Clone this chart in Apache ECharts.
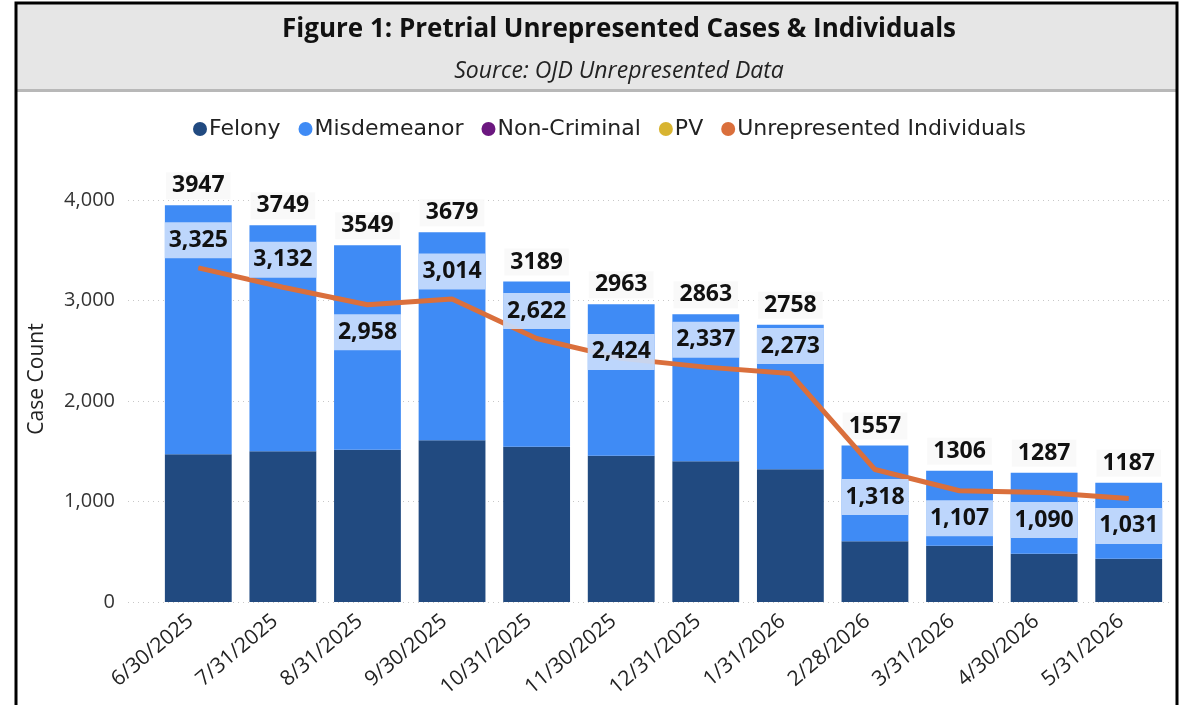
<!DOCTYPE html>
<html>
<head>
<meta charset="utf-8">
<script src="https://cdn.jsdelivr.net/npm/echarts@6/dist/echarts.min.js"></script>
<style>
  html, body { margin: 0; padding: 0; background: #fff; }
  #chart { width: 1183px; height: 705px; }
</style>
</head>
<body>
<div id="chart"></div>
<script>
// month-end dates
const months = ['6/30/2025', '7/31/2025', '8/31/2025', '9/30/2025', '10/31/2025', '11/30/2025',
  '12/31/2025', '1/31/2026', '2/28/2026', '3/31/2026', '4/30/2026', '5/31/2026'];

const felony = [1470, 1500, 1515, 1610, 1545, 1455, 1400, 1320, 605, 560, 480, 430];
const misdemeanor = [2477, 2249, 2034, 2069, 1644, 1508, 1463, 1438, 952, 746, 807, 757];
const nonCriminal = [0, 0, 0, 0, 0, 0, 0, 0, 0, 0, 0, 0];
const pv = [0, 0, 0, 0, 0, 0, 0, 0, 0, 0, 0, 0];
const totals = [3947, 3749, 3549, 3679, 3189, 2963, 2863, 2758, 1557, 1306, 1287, 1187];
const individuals = [3325, 3132, 2958, 3014, 2622, 2424, 2337, 2273, 1318, 1107, 1090, 1031];
// where Power BI put each individuals label: above or below the line
const labelSide = ['top', 'top', 'bottom', 'top', 'top', 'mid', 'top', 'top', 'bottom', 'bottom', 'bottom', 'bottom'];

const yTicks = [0, 1000, 2000, 3000, 4000];

const chart = echarts.init(document.getElementById('chart'));

const FONT = '"Open Sans", sans-serif';

const lineData = individuals.map((v, i) => {
  const side = labelSide[i];
  const label = side === 'mid'
    ? { position: 'top', offset: [0, 21] }
    : { position: side };
  return { value: v, label };
});

chart.setOption({
  animation: false,
  title: {
    text: 'Figure 1: Pretrial Unrepresented Cases & Individuals',
    subtext: 'Source: OJD Unrepresented Data',
    left: 614,
    textAlign: 'center',
    top: 9,
    itemGap: 12,
    textStyle: { fontFamily: FONT, fontWeight: 'bold', fontSize: 26, lineHeight: 32, color: '#111' },
    subtextStyle: { fontFamily: FONT, fontStyle: 'italic', fontSize: 23, lineHeight: 26, color: '#222' }
  },
  graphic: [
    {
      type: 'rect',
      z: -10,
      shape: { x: 16, y: 4, width: 1161, height: 86 },
      style: { fill: '#e6e6e6' }
    },
    {
      type: 'rect',
      z: -9,
      shape: { x: 16, y: 89, width: 1161, height: 3 },
      style: { fill: '#b8b8b8' }
    },
    {
      type: 'rect',
      z: 100,
      shape: { x: 16, y: 3, width: 1161, height: 740 },
      style: { fill: 'none', stroke: '#000', lineWidth: 3 }
    }
  ],
  legend: {
    top: 113,
    left: 188,
    icon: 'circle',
    itemWidth: 14,
    itemHeight: 14,
    itemGap: 18,
    textStyle: { fontFamily: '"DejaVu Sans", sans-serif', fontSize: 22, color: '#222', padding: [0, 0, 0, -3] },
    data: ['Felony', 'Misdemeanor', 'Non-Criminal', 'PV', 'Unrepresented Individuals']
  },
  grid: [
    { left: 156, right: 12, top: 200, bottom: 103 },
    { left: 128, right: 14, top: 200, bottom: 103 }
  ],
  xAxis: [
    {
      type: 'category',
      gridIndex: 0,
      data: months,
      axisLine: { show: false },
      axisTick: { show: false },
      axisLabel: { rotate: 40, margin: 10, padding: [0, 10, 0, 0], fontFamily: FONT, fontSize: 21, color: '#222' }
    },
    { type: 'value', gridIndex: 1, show: false, min: 0, max: 1 }
  ],
  yAxis: [
    {
      type: 'value',
      gridIndex: 0,
      min: 0,
      max: 4000,
      interval: 1000,
      axisLabel: { show: false },
      splitLine: { show: false },
      axisLine: { show: false }
    },
    {
      type: 'value',
      gridIndex: 1,
      min: yTicks[0],
      max: yTicks[yTicks.length - 1],
      interval: 1000,
      name: 'Case Count',
      nameLocation: 'middle',
      nameRotate: 90,
      nameGap: 80,
      nameTextStyle: { fontFamily: FONT, fontSize: 21, color: '#222', padding: [0, 0, 0, 44] },
      axisLine: { show: false },
      axisTick: { show: false },
      axisLabel: {
        margin: 13,
        fontFamily: FONT,
        fontSize: 20,
        color: '#333',
        formatter: (v) => v.toLocaleString('en-US')
      },
      splitLine: { lineStyle: { type: [1, 4], color: '#c8c8c8', width: 1 } }
    }
  ],
  series: [
    {
      name: 'Felony',
      type: 'bar',
      stack: 'cases',
      barCategoryGap: '21%',
      data: felony,
      itemStyle: { color: '#214a80' }
    },
    {
      name: 'Misdemeanor',
      type: 'bar',
      stack: 'cases',
      data: misdemeanor,
      itemStyle: { color: '#3f8bf5' }
    },
    {
      name: 'Non-Criminal',
      type: 'bar',
      stack: 'cases',
      data: nonCriminal,
      itemStyle: { color: '#6b177f' }
    },
    {
      name: 'PV',
      type: 'bar',
      stack: 'cases',
      data: pv,
      itemStyle: { color: '#d8b431' },
      label: {
        show: true,
        position: 'top',
        distance: 6,
        formatter: (p) => String(totals[p.dataIndex]),
        fontFamily: FONT,
        fontWeight: 'bold',
        fontSize: 23,
        color: '#111',
        backgroundColor: 'rgba(248,248,248,0.9)',
        padding: [2, 6]
      }
    },
    {
      name: 'Unrepresented Individuals',
      type: 'line',
      data: lineData,
      symbol: 'circle',
      symbolSize: 1,
      showSymbol: true,
      z: 5,
      lineStyle: { color: '#da6f3c', width: 5 },
      itemStyle: { color: '#da6f3c' },
      label: {
        show: true,
        distance: 9,
        formatter: (p) => p.value.toLocaleString('en-US'),
        fontFamily: FONT,
        fontWeight: 'bold',
        fontSize: 23,
        color: '#111',
        backgroundColor: 'rgba(200,220,252,0.92)',
        width: 67,
        height: 36,
        lineHeight: 36,
        align: 'center'
      }
    }
  ]
});
</script>
</body>
</html>
